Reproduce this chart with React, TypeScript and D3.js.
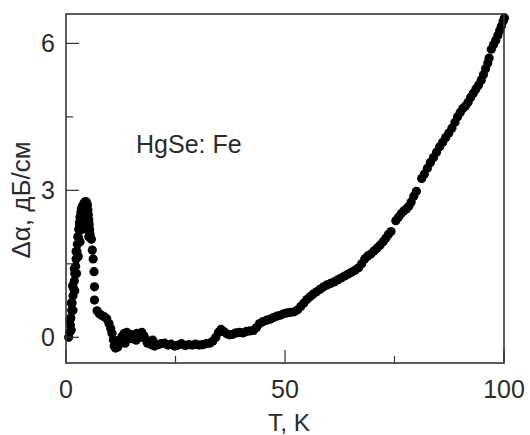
import React from "react";
import * as d3 from "d3";

// Temperature T (K) of each measured point
const temps: number[] = [
  0.6, 0.8, 1.0, 1.1, 1.3, 1.4, 1.6, 1.7, 1.9, 2.0, 2.2, 2.3, 2.5, 2.6, 2.8, 2.9, 3.1, 3.2, 3.4, 3.5, 3.7, 3.9, 4.1, 4.3, 4.5, 4.7, 4.9, 5.0, 5.1, 5.2, 5.3, 5.4, 5.5,
  0.9, 1.2, 1.5, 1.9, 2.3, 2.7, 3.1, 3.5, 3.9, 4.3,
  1.2, 1.6, 2.0, 2.4, 2.8, 3.2, 3.6, 4.0, 4.4, 4.8, 4.6, 4.9, 5.2, 4.5,
  5.8, 6.0, 6.2, 6.4, 6.5, 6.5, 7.1, 7.6, 8.1, 8.7, 9.3, 9.8, 10.2, 10.5, 10.8, 11.0, 11.3,
  11.5, 12.0, 12.3, 12.8, 13.3, 13.9, 14.4, 15.0, 15.5, 16.2, 16.8, 17.3, 17.8, 18.3, 18.9, 19.5, 20.2, 21.0, 21.7, 22.5, 23.3, 24.0, 24.8, 25.6, 26.4, 27.2, 28.0, 28.8, 29.6, 30.4, 31.2, 32.0, 32.8, 33.5,
  11.8, 12.6, 13.5, 14.6, 16.0, 17.0, 18.6, 19.8,
  34.2, 34.8, 35.4, 36.0, 36.7, 37.4, 38.1, 38.8, 39.6, 40.4, 41.2, 42.0, 42.8, 43.5, 44.2, 45.0, 45.8, 46.6, 47.3, 48.1, 48.9, 49.7, 50.5, 51.3, 52.1, 52.9, 53.6, 54.3, 55.0, 55.7, 56.4, 57.2, 58.0, 58.8, 59.6, 60.4, 61.2, 62.0, 62.8, 63.6, 64.4, 65.2, 66.0, 66.8, 67.5, 68.2, 68.9, 69.6, 70.3, 71.0, 71.7, 72.4, 73.0, 73.6, 74.2,
  75.3, 75.9, 76.5, 77.1, 77.7, 78.3, 78.8, 79.4, 80.0,
  81.2, 81.8, 82.5, 83.2, 83.9, 84.6, 85.3, 86.0, 86.7, 87.4, 88.1, 88.8, 89.4, 90.0, 90.6, 91.2, 91.8, 92.4, 93.0, 93.6, 94.2, 94.8, 95.3, 95.8, 96.3, 96.6,
  97.1, 97.6, 98.1, 98.6, 99.0, 99.4, 99.8, 100.1,
];

// Attenuation change Δα (dB/cm) at each temperature
const alphas: number[] = [
  0.0, 0.1, 0.25, 0.4, 0.55, 0.7, 0.85, 1.0, 1.15, 1.3, 1.45, 1.6, 1.75, 1.9, 2.05, 2.2, 2.35, 2.45, 2.55, 2.62, 2.66, 2.7, 2.73, 2.76, 2.77, 2.75, 2.7, 2.6, 2.5, 2.4, 2.3, 2.2, 2.1,
  0.35, 0.7, 1.05, 1.4, 1.75, 2.05, 2.3, 2.5, 2.62, 2.7,
  0.15, 0.55, 0.95, 1.3, 1.65, 1.95, 2.2, 2.4, 2.5, 2.45, 2.3, 2.2, 2.05, 2.55,
  2.0, 1.78, 1.6, 1.34, 1.03, 0.76, 0.54, 0.48, 0.45, 0.42, 0.38, 0.28, 0.18, 0.08, -0.05, -0.18, -0.22,
  -0.1, -0.15, -0.05, 0.02, 0.08, 0.1, 0.02, -0.03, 0.05, 0.08, 0.06, 0.1, 0.03, -0.05, -0.1, -0.15, -0.18, -0.15, -0.13, -0.12, -0.16, -0.14, -0.18, -0.16, -0.13, -0.17, -0.15, -0.16, -0.14, -0.16, -0.15, -0.13, -0.12, -0.08,
  -0.2, -0.08, -0.12, 0.06, -0.06, 0.0, -0.12, -0.06,
  0.0, 0.1, 0.16, 0.12, 0.07, 0.05, 0.06, 0.09, 0.1, 0.09, 0.12, 0.13, 0.14, 0.2, 0.28, 0.32, 0.35, 0.37, 0.4, 0.43, 0.45, 0.48, 0.5, 0.51, 0.52, 0.56, 0.63, 0.7, 0.77, 0.83, 0.88, 0.93, 0.98, 1.03, 1.07, 1.1, 1.13, 1.17, 1.21, 1.25, 1.29, 1.33, 1.37, 1.42, 1.5, 1.6, 1.66, 1.7, 1.76, 1.82, 1.88, 1.95, 2.02, 2.1, 2.16,
  2.38, 2.45, 2.52, 2.58, 2.62, 2.68, 2.76, 2.88, 2.98,
  3.24, 3.33, 3.45, 3.57, 3.67, 3.78, 3.89, 3.98, 4.08, 4.17, 4.27, 4.39, 4.5, 4.59, 4.67, 4.72, 4.8, 4.9, 4.98, 5.07, 5.15, 5.25, 5.36, 5.48, 5.6, 5.7,
  5.88, 5.97, 6.06, 6.16, 6.26, 6.35, 6.45, 6.52,
];

const xMajorTicks = [0, 50, 100];
const xMinorTicks = [25, 75];
const yMajorTicks = [0, 3, 6];
const yMinorTicks = [1.5, 4.5];

const W = 530;
const H = 435;
const M = { left: 66, right: 504, top: 14, bottom: 363 };
const FONT = "'Liberation Sans', Arial, Helvetica, sans-serif";
const TXT = "#2b2b2b";
const AX = "#333";

export default function App() {
  const x = d3.scaleLinear().domain([0, 100]).range([M.left, M.right]);
  const y = d3.scaleLinear().domain([-0.525, 6.6]).range([M.bottom, M.top]);
  const pts = temps.map((t, i) => ({ t, v: alphas[i] }));

  return (
    <svg width={W} height={H} style={{ position: "absolute", left: 0, top: 0, background: "#fff" }}>
      <rect x={0} y={0} width={W} height={H} fill="#fff" />
      {pts.map((p, i) => (
        <circle key={i} cx={x(p.t)} cy={y(p.v)} r={4.6} fill="#000" />
      ))}
      <rect x={M.left} y={M.top} width={M.right - M.left} height={M.bottom - M.top} fill="none" stroke={AX} strokeWidth={1.6} />
      {xMajorTicks.map((t) => (
        <line key={"xM" + t} x1={x(t)} x2={x(t)} y1={M.bottom} y2={M.bottom - 13} stroke={AX} strokeWidth={1.2} />
      ))}
      {xMinorTicks.map((t) => (
        <line key={"xm" + t} x1={x(t)} x2={x(t)} y1={M.bottom} y2={M.bottom - 7} stroke={AX} strokeWidth={1.2} />
      ))}
      {yMajorTicks.map((t) => (
        <line key={"yM" + t} x1={M.left} x2={M.left + 13} y1={y(t)} y2={y(t)} stroke={AX} strokeWidth={1.2} />
      ))}
      {yMinorTicks.map((t) => (
        <line key={"ym" + t} x1={M.left} x2={M.left + 7} y1={y(t)} y2={y(t)} stroke={AX} strokeWidth={1.2} />
      ))}
      {xMajorTicks.map((t) => (
        <text key={"xl" + t} x={x(t)} y={398} textAnchor="middle" fontFamily={FONT} fontSize={25} fill={TXT}>
          {t}
        </text>
      ))}
      {yMajorTicks.map((t) => (
        <text key={"yl" + t} x={55} y={y(t) + 9} textAnchor="end" fontFamily={FONT} fontSize={25} fill={TXT}>
          {t}
        </text>
      ))}
      <text x={289} y={431} textAnchor="middle" fontFamily={FONT} fontSize={24.5} fill={TXT}>
        T, K
      </text>
      <text
        transform={`translate(30,200) rotate(-90)`}
        textAnchor="middle"
        fontFamily={FONT}
        fontSize={26}
        fill={TXT}
      >
        Δα, дБ/см
      </text>
      <text x={136} y={153} fontFamily={FONT} fontSize={25} fill={TXT} style={{ whiteSpace: "pre" }}>
        HgSe: Fe
      </text>
    </svg>
  );
}
